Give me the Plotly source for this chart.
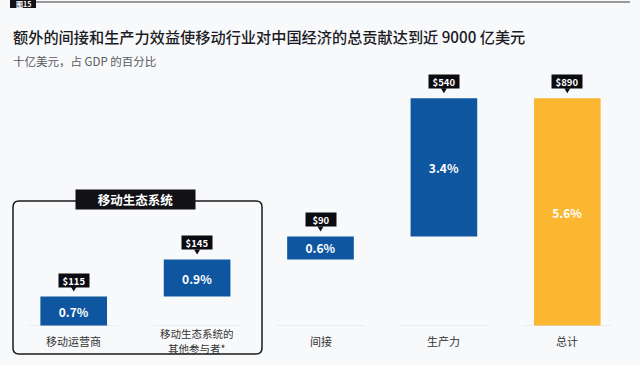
import plotly.graph_objects as go

# ---- data ----
categories = ["移动运营商", "移动生态系统的<br>其他参与者*", "间接", "生产力", "总计"]
values = [115, 145, 90, 540, 890]
measures = ["relative", "relative", "relative", "relative", "total"]
value_labels = ["$115", "$145", "$90", "$540", "$890"]
pct_labels = ["0.7%", "0.9%", "0.6%", "3.4%", "5.6%"]

title = "额外的间接和生产力效益使移动行业对中国经济的总贡献达到近 9000 亿美元"
subtitle = "十亿美元，占 GDP 的百分比"
group_title = "移动生态系统"
fig_tag = "图15"

BLUE = "#0e56a0"
YELLOW = "#fbb731"
BG = "#f8f9fb"
FONT = "Noto Sans CJK SC"

W, H = 640, 365
L, R, T, B = 12, 11, 70, 39
PW = W - L - R
PH = H - T - B


def px(x):
    return (x - L) / PW


def py(y):
    return (H - B - y) / PH


xs = list(range(len(categories)))

# bar tops (cumulative)
tops = []
run = 0
for v, m in zip(values, measures):
    if m == "total":
        tops.append(run)
    else:
        run += v
        tops.append(run)

fig = go.Figure()
fig.add_trace(go.Waterfall(
    x=xs, y=values, measure=measures,
    text=pct_labels, textposition="inside", insidetextanchor="middle",
    textfont=dict(color="white", size=12, family=FONT, weight="bold"),
    increasing=dict(marker=dict(color=BLUE)),
    totals=dict(marker=dict(color=YELLOW)),
    connector=dict(visible=False),
    width=0.54,
    hoverinfo="skip",
))

shapes = []
annotations = []

# baseline segments
for i in xs:
    shapes.append(dict(type="line", xref="x", yref="y", x0=i - 0.36, x1=i + 0.36,
                       y0=0, y1=0, line=dict(color="#dde1e7", width=1)))

# value labels with pointer
for i, t, lab in zip(xs, tops, value_labels):
    annotations.append(dict(x=i, y=t, xref="x", yref="y", text="<b>" + lab + "</b>",
                            showarrow=False, yanchor="bottom", yshift=9,
                            font=dict(color="white", size=9.5, family=FONT),
                            bgcolor="#0b0b12", borderpad=1, width=28, height=11))
    shapes.append(dict(type="path", xref="x", yref="y", xsizemode="pixel", ysizemode="pixel",
                       xanchor=i, yanchor=t, path="M -3,10 L 3,10 L 0,5 Z",
                       fillcolor="#0b0b12", line=dict(width=0)))

# category labels (each line placed separately)
for i, c in zip(xs, categories):
    lines = c.split("<br>")
    n = len(lines)
    for k, ln in enumerate(lines):
        shift = -15 - (k - (n - 1) / 2) * 15.5
        annotations.append(dict(x=i, y=0, xref="x", yref="y", text=ln, showarrow=False,
                                yanchor="middle", yshift=shift,
                                font=dict(color="#333333", size=10.5 if n > 1 else 11,
                                          family=FONT)))

# ecosystem rounded box
x0, x1, y0, y1, r = 13, 262, 201, 354, 6
rx, ry = r / PW, r / PH
X0, X1, Y0, Y1 = px(x0), px(x1), py(y0), py(y1)
path = (f"M {X0+rx},{Y0} L {X1-rx},{Y0} Q {X1},{Y0} {X1},{Y0-ry} "
        f"L {X1},{Y1+ry} Q {X1},{Y1} {X1-rx},{Y1} "
        f"L {X0+rx},{Y1} Q {X0},{Y1} {X0},{Y1+ry} "
        f"L {X0},{Y0-ry} Q {X0},{Y0} {X0+rx},{Y0} Z")
shapes.append(dict(type="path", xref="paper", yref="paper", path=path,
                   line=dict(color="#1a1a1a", width=1.5), fillcolor="rgba(0,0,0,0)"))
annotations.append(dict(x=px(135.5), y=py(199.5), xref="paper", yref="paper",
                        text="<b>" + group_title + "</b>", showarrow=False,
                        xanchor="center", yanchor="middle",
                        font=dict(color="white", size=12.5, family=FONT),
                        bgcolor="#111116", borderpad=1, width=117, height=17))

# header tag and rule
shapes.append(dict(type="line", xref="paper", yref="paper", x0=px(36), x1=px(630),
                   y0=py(2), y1=py(2), line=dict(color="#9a9a9a", width=2)))
shapes.append(dict(type="rect", xref="paper", yref="paper", x0=px(10), x1=px(36),
                   y0=py(0), y1=py(8), fillcolor="#111116", line=dict(width=0)))
annotations.append(dict(x=px(23), y=py(3.5), xref="paper", yref="paper",
                        text="<b>" + fig_tag + "</b>", showarrow=False,
                        xanchor="center", yanchor="middle",
                        font=dict(color="white", size=7, family=FONT)))

# title & subtitle
annotations.append(dict(x=px(11), y=py(35.5), xref="paper", yref="paper", text=title,
                        showarrow=False, xanchor="left", yanchor="middle",
                        font=dict(color="#1b1b24", size=15.2, family=FONT, weight=500)))
annotations.append(dict(x=px(11), y=py(60.5), xref="paper", yref="paper", text=subtitle,
                        showarrow=False, xanchor="left", yanchor="middle",
                        font=dict(color="#5a5a60", size=11.5, family=FONT)))

fig.update_layout(
    width=W, height=H,
    margin=dict(l=L, r=R, t=T, b=B),
    paper_bgcolor=BG, plot_bgcolor=BG,
    showlegend=False,
    xaxis=dict(range=[-0.5, 4.5], visible=False, fixedrange=True),
    yaxis=dict(range=[0, 1000], visible=False, fixedrange=True),
    shapes=shapes, annotations=annotations,
    uniformtext=dict(minsize=8, mode="show"),
)

fig.write_html("out.html", config={"displayModeBar": False},
               post_script="document.body.style.margin='0';document.body.style.background='" + BG + "';")
